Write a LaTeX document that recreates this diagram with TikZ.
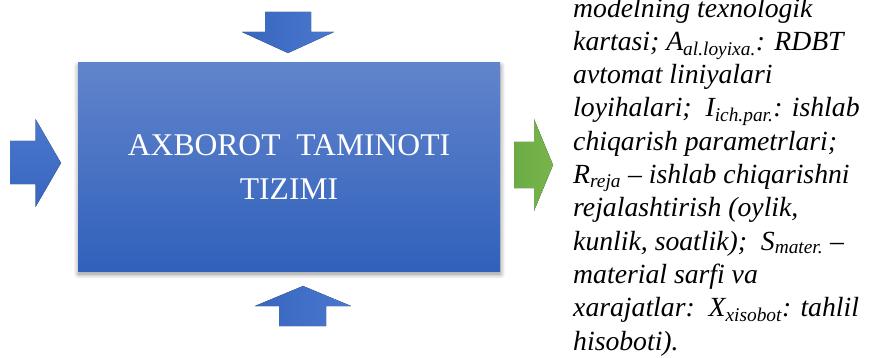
\documentclass[tikz,border=0pt]{standalone}
\usepackage{fontspec}
\setmainfont{Liberation Serif}[ItalicFont={Liberation Serif Italic}]
\usetikzlibrary{shadows.blur}
\definecolor{boxtop}{RGB}{98,132,204}
\definecolor{boxbot}{RGB}{48,97,187}
\definecolor{arrA}{RGB}{56,102,192}
\definecolor{arrB}{RGB}{74,120,206}
\definecolor{grA}{RGB}{108,170,68}
\definecolor{grB}{RGB}{120,182,76}
\tikzset{
  sysbox/.style={rectangle, inner sep=0pt, minimum width=422pt, minimum height=208pt,
    top color=boxtop, bottom color=boxbot, draw=none, text=white, align=center,
    font=\fontsize{31.6}{44}\selectfont,
    blur shadow={shadow xshift=0.5pt, shadow yshift=-3pt, shadow blur radius=5pt, shadow blur steps=12, shadow opacity=45}},
  bluearrowh/.style={left color=arrA, right color=arrB, draw=none},
  bluearrowv/.style={top color=arrB, bottom color=arrA, draw=none},
  greenarrow/.style={left color=grA, right color=grB, draw=none},
  desc/.style={anchor=base west, inner sep=0pt, align=left, text=black,
    font=\fontsize{27.7}{33.3}\selectfont\itshape}
}
\begin{document}
\begin{tikzpicture}[x=1pt,y=-1pt]
\useasboundingbox (0,0) rectangle (874,358);
\node[sysbox] (sys) at (289,167) {AXBOROT\ \ TAMINOTI\\TIZIMI};
% top arrow
\fill[bluearrowh] (265,12) -- (311,12) -- (311,32) -- (334,32) -- (288,53) -- (242,32) -- (265,32) -- cycle;
% bottom arrow
\fill[bluearrowh] (279,326) -- (326,326) -- (326,306) -- (351,306) -- (303,286) -- (255,306) -- (279,306) -- cycle;
% left arrow
\fill[bluearrowv] (10,141) -- (35.5,141) -- (35.5,119) -- (61,163) -- (35.5,207) -- (35.5,184) -- (10,184) -- cycle;
% green arrow
\fill[greenarrow] (514,142) -- (534,142) -- (534,119) -- (553,165) -- (534,211) -- (534,188) -- (514,188) -- cycle;
\node[desc] (txt) at (573,350) {modelning texnologik\\
kartasi; A\textsubscript{al.loyixa.}: RDBT\\
avtomat liniyalari\\
loyihalari;\ \ I\textsubscript{ich.par.}: ishlab\\
chiqarish parametrlari;\\
R\textsubscript{reja} -- ishlab chiqarishni\\
rejalashtirish (oylik,\\
kunlik, soatlik);\ \ S\textsubscript{mater.} --\\
material sarfi va\\
xarajatlar:\ \ X\textsubscript{xisobot}: tahlil\\
hisoboti).};
\end{tikzpicture}
\end{document}
